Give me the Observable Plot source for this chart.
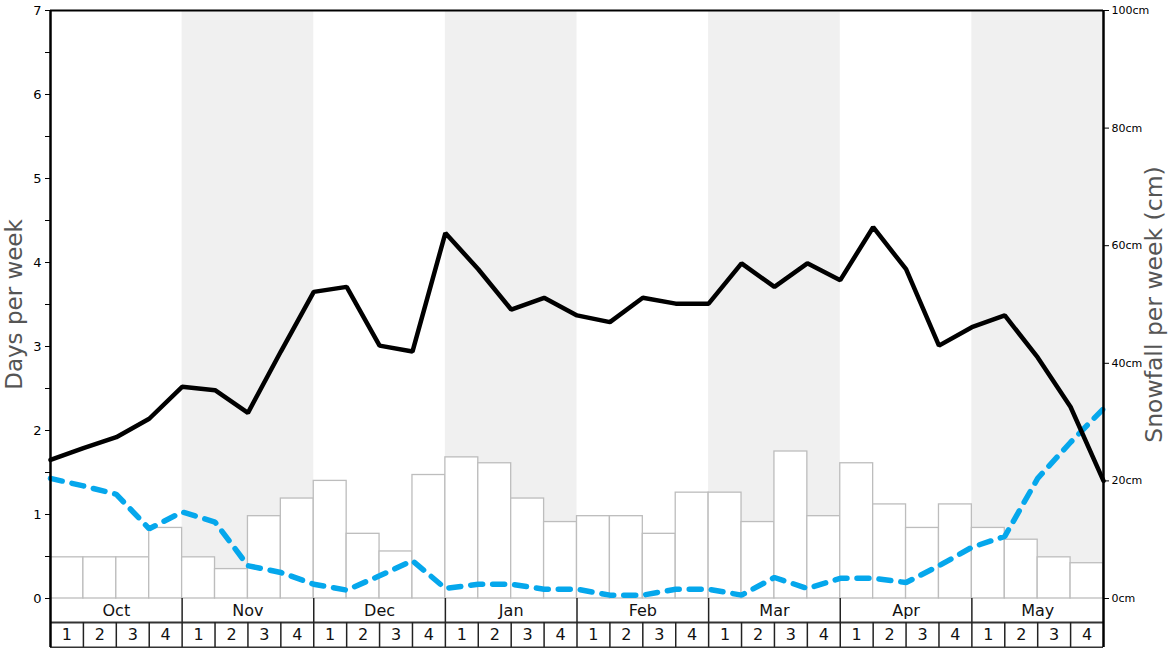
<!DOCTYPE html>
<html>
<head>
<meta charset="utf-8">
<script src="https://cdn.jsdelivr.net/npm/d3@7"></script>
<script src="https://cdn.jsdelivr.net/npm/@observablehq/plot@0.6"></script>
<style>
  html, body { margin: 0; padding: 0; background: #fff; }
  #chart svg { display: block; }
</style>
</head>
<body>
<div id="chart"></div>
<script>
const months = ["Oct", "Nov", "Dec", "Jan", "Feb", "Mar", "Apr", "May"];
const weekLabels = ["1", "2", "3", "4"];
// Snowfall per week (cm), one per week, Oct wk1 .. May wk4
const snowfallCm = [7, 7, 7, 12, 7, 5, 14, 17, 20, 11, 8, 21, 24, 23, 17, 13,
                    14, 14, 11, 18, 18, 13, 25, 14, 23, 16, 12, 16, 12, 10, 7, 6];
// Snow days per week (black line), 33 points at week boundaries
const snowDays = [1.65, 1.79, 1.92, 2.14, 2.52, 2.48, 2.21, 2.94, 3.65, 3.71, 3.01, 2.94,
                  4.35, 3.92, 3.44, 3.58, 3.37, 3.29, 3.58, 3.51, 3.51, 3.99, 3.71, 3.99,
                  3.79, 4.42, 3.92, 3.01, 3.23, 3.37, 2.87, 2.28, 1.40];
// Blue dashed line, 33 points at week boundaries
const blueDays = [1.43, 1.34, 1.24, 0.83, 1.03, 0.91, 0.39, 0.31, 0.17, 0.10, 0.27, 0.45,
                  0.12, 0.17, 0.17, 0.11, 0.11, 0.04, 0.04, 0.11, 0.11, 0.04, 0.25, 0.12,
                  0.24, 0.24, 0.19, 0.39, 0.61, 0.74, 1.43, 1.86, 2.26];
const leftTicks = [0, 1, 2, 3, 4, 5, 6, 7];
const leftMinorTicks = [0.5, 1.5, 2.5, 3.5, 4.5, 5.5, 6.5];
const rightTicksCm = [0, 20, 40, 60, 80, 100];

const cmToDays = 7 / 100;
const monthRowBottom = -24 / 84;
const weekRowBottom = -49 / 84;

const weeks = snowfallCm.map((v, i) => ({i, cm: v, label: weekLabels[i % 4]}));
const monthData = months.map((m, k) => ({k, m}));
const lineData = snowDays.map((v, i) => ({i, v}));
const blueData = blueDays.map((v, i) => ({i, v}));
const nWeeks = snowfallCm.length;

const chart = Plot.plot({
  width: 1168,
  height: 648,
  marginLeft: 50,
  marginRight: 65,
  marginTop: 10,
  marginBottom: 50,
  style: {fontFamily: "DejaVu Sans", fontSize: "13px", background: "#fff"},
  x: {domain: [0, nWeeks], axis: null},
  y: {domain: [0, 7], axis: null},
  marks: [
    // alternating month bands
    Plot.rect(monthData.filter(d => d.k % 2 === 1), {
      x1: d => d.k * 4, x2: d => d.k * 4 + 4, y1: 0, y2: 7, fill: "#f0f0f0"
    }),
    // snowfall bars
    Plot.rect(weeks, {
      x1: d => d.i, x2: d => d.i + 1, y1: 0, y2: d => d.cm * cmToDays,
      fill: "white", stroke: "#bdbdbd", strokeWidth: 1.3
    }),
    // blue dashed line
    Plot.line(blueData, {
      x: "i", y: "v", stroke: "#05a7ec", strokeWidth: 5.5,
      strokeDasharray: "12,10", strokeLinejoin: "miter"
    }),
    // black line
    Plot.line(lineData, {
      x: "i", y: "v", stroke: "black", strokeWidth: 4.5, strokeLinejoin: "miter"
    }),
    // month row / week row separators
    Plot.ruleY([monthRowBottom], {x1: 0, x2: nWeeks, stroke: "#333", strokeWidth: 2}),
    Plot.ruleY([weekRowBottom], {x1: 0, x2: nWeeks, stroke: "#333", strokeWidth: 2}),
    Plot.ruleX(d3.range(1, months.length).map(k => k * 4), {
      y1: 0, y2: monthRowBottom, stroke: "#222", strokeWidth: 1.5
    }),
    Plot.ruleX(d3.range(1, nWeeks), {
      y1: monthRowBottom, y2: weekRowBottom, stroke: "#222", strokeWidth: 1.5
    }),
    // month and week labels
    Plot.text(monthData, {
      x: d => d.k * 4 + 2, y: monthRowBottom / 2, text: "m",
      fontSize: 16, fill: "#111"
    }),
    Plot.text(weeks, {
      x: d => d.i + 0.5, y: (monthRowBottom + weekRowBottom) / 2, text: "label",
      fontSize: 16, fill: "#111"
    }),
    // frame
    Plot.ruleY([7], {x1: 0, x2: nWeeks, stroke: "black", strokeWidth: 2}),
    Plot.ruleX([0, nWeeks], {y1: weekRowBottom, y2: 7, stroke: "black", strokeWidth: 2.5}),
    // left axis
    Plot.axisY(leftTicks, {
      anchor: "left", tickSize: 5, tickPadding: 4, label: null,
      tickFormat: d => String(d), fontSize: 13, stroke: "black", color: "black"
    }),
    Plot.axisY(leftMinorTicks, {
      anchor: "left", tickSize: 5, label: null, tickFormat: () => "", stroke: "black"
    }),
    // right axis (cm)
    Plot.axisY(rightTicksCm.map(c => c * cmToDays), {
      anchor: "right", tickSize: 5, tickPadding: 3, label: null,
      tickFormat: d => Math.round(d / cmToDays) + "cm", fontSize: 11, stroke: "black"
    }),
    // axis titles
    Plot.text(["Days per week"], {
      frameAnchor: "left", textAnchor: "middle", rotate: -90, dx: -36,
      fontSize: 23, fill: "#555"
    }),
    Plot.text(["Snowfall per week (cm)"], {
      frameAnchor: "right", textAnchor: "middle", rotate: -90, dx: 51,
      fontSize: 23.5, fill: "#555"
    })
  ]
});

document.getElementById("chart").appendChild(chart);
</script>
</body>
</html>
